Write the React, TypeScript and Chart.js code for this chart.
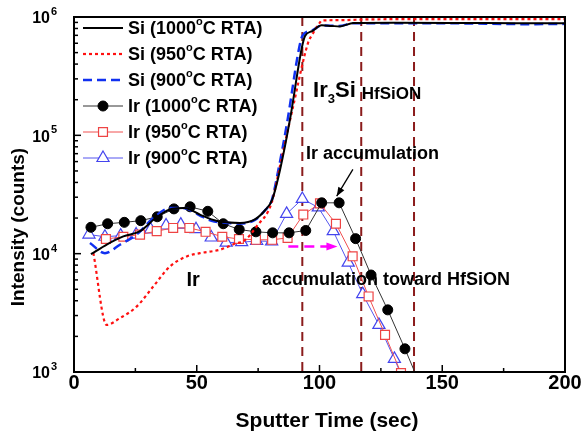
import React, { useEffect, useRef } from "react";
import { Chart, registerables } from "chart.js";
Chart.register(...registerables);

// ---------- data ----------
const siTime1000 = [6.9, 13.5, 20.1, 26.9, 33.9, 40, 45, 51.3, 56, 60.8, 67.6, 73.7, 78, 80.7, 84, 88, 92.7, 94.1, 97, 100.9, 105, 108.4, 113.8, 130, 160, 180, 200];
const si1000 = [9900, 12000, 14000, 15500, 20500, 24000, 24300, 21400, 19500, 18500, 18200, 19500, 23500, 28500, 52000, 137000, 536000, 690000, 760000, 850000, 840000, 833000, 890000, 895000, 890000, 885000, 885000];

const siTime950 = [7.9, 13.3, 18.7, 25.5, 32.3, 39.1, 45.9, 51.3, 59.5, 66.3, 69, 74.4, 80.5, 83.9, 89, 95.4, 96.8, 100.2, 100.9, 108, 120, 150, 200];
const si950 = [10100, 2500, 2850, 3570, 5280, 7800, 9480, 10100, 10800, 12300, 12700, 17000, 26900, 55000, 166000, 610000, 695000, 900000, 933000, 940000, 955000, 960000, 960000];

const siTime900 = [6.5, 12.6, 18.7, 25.5, 32.3, 39.1, 45, 51.3, 56, 60.8, 67.6, 73.7, 78, 80.5, 83, 87, 91.5, 93, 97, 100.9, 108, 113.8, 150, 185, 200];
const si900 = [12300, 10100, 11900, 14500, 20000, 24300, 24200, 21000, 19000, 18300, 18000, 19300, 23500, 28000, 48000, 135000, 520000, 690000, 770000, 850000, 840000, 885000, 885000, 870000, 875000];

const irTime1000 = [6.9, 13.7, 20.5, 27.2, 33.9, 40.7, 47.3, 54.5, 60.8, 67.3, 74.1, 80.9, 87.6, 94.4, 100.9, 108, 114.7, 121, 127.8, 134.8, 141.6];
const ir1000 = [16700, 17900, 18400, 19000, 20500, 23900, 24900, 22800, 17900, 16000, 15300, 15000, 15000, 15700, 26900, 26900, 13400, 6600, 3350, 1570, 730];

const irTime950 = [13.0, 20.1, 26.9, 33.7, 40.4, 47.0, 53.6, 60.4, 67.2, 74.1, 80.7, 87.0, 93.4, 100.2, 106.7, 113.5, 120.0, 126.7, 133.2, 139.8];
const ir950 = [13300, 13900, 14500, 15500, 16500, 16500, 15300, 13900, 13300, 13100, 13100, 13600, 21400, 26600, 17900, 9500, 4350, 2060, 980, 470];

const irTime900 = [6.1, 12.6, 19.0, 25.3, 31.2, 37.5, 43.5, 49.7, 55.9, 62.0, 68.3, 74.4, 80.5, 86.6, 93.0, 99.5, 105.6, 111.7, 117.6, 124.2, 130.5, 136.7];
const ir900 = [14500, 13900, 14200, 14500, 16000, 17300, 17600, 16100, 13700, 12400, 12500, 12800, 12700, 21700, 29000, 24600, 15500, 8400, 4550, 2500, 1290, 660];

const seriesLabels = ["Si (1000°C RTA)", "Si (950°C RTA)", "Si (900°C RTA)", "Ir (1000°C RTA)", "Ir (950°C RTA)", "Ir (900°C RTA)"];
const xTickValues = [0, 50, 100, 150, 200];
const yDecades = [1e3, 1e4, 1e5, 1e6];
const yTickLabels = [["10", "3"], ["10", "4"], ["10", "5"], ["10", "6"]];
const boundaryTimes = [93, 117, 138.5];

const FONT = "'Liberation Sans', Arial, Helvetica, sans-serif";

function pts(xs: number[], ys: number[]) {
  return xs.map((x, i) => ({ x, y: ys[i] }));
}

function drawMarker(ctx: CanvasRenderingContext2D, style: string, x: number, y: number, r: number, fill: string, stroke: string, lw: number) {
  ctx.save();
  ctx.beginPath();
  if (style === "circle") {
    ctx.arc(x, y, r, 0, Math.PI * 2);
  } else if (style === "rect") {
    const s = Math.SQRT1_2 * r;
    ctx.rect(x - s, y - s, 2 * s, 2 * s);
  } else {
    ctx.moveTo(x, y - r);
    ctx.lineTo(x + r * Math.sin((2 * Math.PI) / 3), y - r * Math.cos((2 * Math.PI) / 3));
    ctx.lineTo(x + r * Math.sin((4 * Math.PI) / 3), y - r * Math.cos((4 * Math.PI) / 3));
    ctx.closePath();
  }
  ctx.fillStyle = fill;
  ctx.fill();
  ctx.lineWidth = lw;
  ctx.strokeStyle = stroke;
  ctx.stroke();
  ctx.restore();
}

function drawSupText(ctx: CanvasRenderingContext2D, text: string, x: number, y: number, size: number) {
  // "°" rendered as superscript o, like the original figure
  const parts = text.split("°");
  ctx.textAlign = "left";
  ctx.textBaseline = "middle";
  let cx = x;
  parts.forEach((p, i) => {
    ctx.font = `bold ${size}px ${FONT}`;
    ctx.fillText(p, cx, y);
    cx += ctx.measureText(p).width;
    if (i < parts.length - 1) {
      ctx.font = `bold ${Math.round(size * 0.6)}px ${FONT}`;
      ctx.fillText("o", cx, y - size * 0.38);
      cx += ctx.measureText("o").width;
    }
  });
}

function arrowHead(ctx: CanvasRenderingContext2D, x0: number, y0: number, x1: number, y1: number, len: number, wid: number, color: string) {
  const ang = Math.atan2(y1 - y0, x1 - x0);
  ctx.save();
  ctx.setLineDash([]);
  ctx.fillStyle = color;
  ctx.beginPath();
  ctx.moveTo(x1, y1);
  ctx.lineTo(x1 - len * Math.cos(ang) + wid * Math.sin(ang), y1 - len * Math.sin(ang) - wid * Math.cos(ang));
  ctx.lineTo(x1 - len * Math.cos(ang) - wid * Math.sin(ang), y1 - len * Math.sin(ang) + wid * Math.cos(ang));
  ctx.closePath();
  ctx.fill();
  ctx.restore();
}

const decor = {
  id: "decor",
  beforeDatasetsDraw(chart: any) {
    const { ctx, chartArea: a, scales } = chart;
    const x = scales.x;
    ctx.save();
    ctx.strokeStyle = "#8b1c1c";
    ctx.lineWidth = 2;
    ctx.setLineDash([9, 6]);
    for (const v of boundaryTimes) {
      const px = x.getPixelForValue(v);
      ctx.beginPath();
      ctx.moveTo(px, a.top);
      ctx.lineTo(px, a.bottom);
      ctx.stroke();
    }
    ctx.restore();
  },
  afterDatasetsDraw(chart: any) {
    const { ctx, chartArea: a, scales } = chart;
    const x = scales.x;
    const y = scales.y;
    ctx.save();
    ctx.fillStyle = "#000";
    ctx.strokeStyle = "#000";

    // x ticks (inward)
    ctx.lineWidth = 1.5;
    for (let v = 0; v <= 200; v += 25) {
      const px = x.getPixelForValue(v);
      const len = v % 50 === 0 ? 7 : 4;
      ctx.beginPath();
      ctx.moveTo(px, a.bottom);
      ctx.lineTo(px, a.bottom - len);
      ctx.stroke();
    }
    // y ticks (inward)
    yDecades.forEach((d, i) => {
      const py = y.getPixelForValue(d);
      ctx.beginPath();
      ctx.moveTo(a.left, py);
      ctx.lineTo(a.left + 7, py);
      ctx.stroke();
      if (i < yDecades.length - 1) {
        for (let m = 2; m <= 9; m++) {
          const pm = y.getPixelForValue(d * m);
          ctx.beginPath();
          ctx.moveTo(a.left, pm);
          ctx.lineTo(a.left + 4, pm);
          ctx.stroke();
        }
      }
    });

    // frame
    ctx.lineWidth = 2;
    ctx.strokeRect(a.left, a.top, a.right - a.left, a.bottom - a.top);

    // y tick labels with superscripts
    yDecades.forEach((d, i) => {
      const py = y.getPixelForValue(d);
      const [base, sup] = yTickLabels[i];
      ctx.font = `bold 16px ${FONT}`;
      ctx.textAlign = "right";
      ctx.textBaseline = "middle";
      ctx.fillText(base, 50, py + 2);
      ctx.font = `bold 11px ${FONT}`;
      ctx.textAlign = "left";
      ctx.fillText(sup, 51, py - 5);
    });

    // axis titles
    ctx.font = `bold 21px ${FONT}`;
    ctx.textAlign = "center";
    ctx.textBaseline = "middle";
    ctx.fillText("Sputter Time (sec)", 327, 421);
    ctx.save();
    ctx.translate(19, 227);
    ctx.rotate(-Math.PI / 2);
    ctx.font = `bold 19px ${FONT}`;
    ctx.fillText("Intensity (counts)", 0, 0);
    ctx.restore();

    // annotations
    ctx.textAlign = "center";
    ctx.textBaseline = "middle";
    ctx.font = `bold 20px ${FONT}`;
    ctx.fillText("Ir", x.getPixelForValue(48.5), y.getPixelForValue(5900));

    ctx.textAlign = "left";
    let ix = x.getPixelForValue(97.4);
    const iy = y.getPixelForValue(236000);
    ctx.font = `bold 22px ${FONT}`;
    ctx.fillText("Ir", ix, iy);
    ix += ctx.measureText("Ir").width;
    ctx.font = `bold 13px ${FONT}`;
    ctx.fillText("3", ix, iy + 8);
    ix += ctx.measureText("3").width;
    ctx.font = `bold 22px ${FONT}`;
    ctx.fillText("Si", ix, iy);

    ctx.font = `bold 17px ${FONT}`;
    ctx.fillText("HfSiON", x.getPixelForValue(117.2), y.getPixelForValue(222000));

    ctx.font = `bold 18px ${FONT}`;
    ctx.fillText("Ir accumulation", x.getPixelForValue(94.5), y.getPixelForValue(69000));
    ctx.fillText("accumulation toward HfSiON", x.getPixelForValue(76.6), y.getPixelForValue(6030));

    // black arrow
    {
      const x0 = x.getPixelForValue(113.6), y0 = y.getPixelForValue(51500);
      const x1 = x.getPixelForValue(107), y1 = y.getPixelForValue(30600);
      ctx.lineWidth = 1.3;
      ctx.beginPath();
      ctx.moveTo(x0, y0);
      ctx.lineTo(x1, y1);
      ctx.stroke();
      arrowHead(ctx, x0, y0, x1, y1, 9, 3.5, "#000");
    }
    // magenta dashed arrow
    {
      const x0 = x.getPixelForValue(87.3), y0 = y.getPixelForValue(11500);
      const x1 = x.getPixelForValue(107.3), y1 = y0;
      ctx.strokeStyle = "#ff00ff";
      ctx.lineWidth = 2.5;
      ctx.setLineDash([10, 6]);
      ctx.beginPath();
      ctx.moveTo(x0, y0);
      ctx.lineTo(x1 - 6, y1);
      ctx.stroke();
      arrowHead(ctx, x0, y0, x1, y1, 11, 4, "#ff00ff");
      ctx.setLineDash([]);
    }

    // legend
    chart.data.datasets.forEach((ds: any, i: number) => {
      const ly = 28 + i * 26;
      ctx.save();
      ctx.strokeStyle = ds.borderColor;
      ctx.lineWidth = ds.borderWidth;
      ctx.setLineDash(ds.borderDash || []);
      ctx.beginPath();
      ctx.moveTo(83, ly);
      ctx.lineTo(123, ly);
      ctx.stroke();
      ctx.setLineDash([]);
      if (ds.pointRadius > 0) {
        drawMarker(ctx, ds.pointStyle, 103, ly, ds.pointRadius, ds.pointBackgroundColor, ds.pointBorderColor, ds.pointBorderWidth);
      }
      ctx.restore();
      ctx.fillStyle = "#000";
      drawSupText(ctx, ds.label, 128, ly + 1, 18);
    });

    ctx.restore();
  },
};

export default function App() {
  const ref = useRef<HTMLCanvasElement | null>(null);
  useEffect(() => {
    document.body.style.margin = "0";
    if (!ref.current) return;
    const chart = new Chart(ref.current, {
      type: "line",
      data: {
        datasets: [
          {
            label: seriesLabels[0], data: pts(siTime1000, si1000), borderColor: "#000000", borderWidth: 2,
            pointRadius: 0, cubicInterpolationMode: "monotone", fill: false,
          },
          {
            label: seriesLabels[1], data: pts(siTime950, si950), borderColor: "#ff1010", borderWidth: 2.2, borderDash: [3, 3],
            pointRadius: 0, cubicInterpolationMode: "monotone", fill: false,
          },
          {
            label: seriesLabels[2], data: pts(siTime900, si900), borderColor: "#1030f0", borderWidth: 2.5, borderDash: [9, 5],
            pointRadius: 0, cubicInterpolationMode: "monotone", fill: false,
          },
          {
            label: seriesLabels[3], data: pts(irTime1000, ir1000), borderColor: "#333333", borderWidth: 1,
            pointStyle: "circle", pointRadius: 5, pointBackgroundColor: "#000000", pointBorderColor: "#000000", pointBorderWidth: 1,
            tension: 0, fill: false,
          },
          {
            label: seriesLabels[4], data: pts(irTime950, ir950), borderColor: "#f05050", borderWidth: 1,
            pointStyle: "rect", pointRadius: 6.3, pointBackgroundColor: "#ffffff", pointBorderColor: "#ee4444", pointBorderWidth: 1.2,
            tension: 0, fill: false,
          },
          {
            label: seriesLabels[5], data: pts(irTime900, ir900), borderColor: "#5555ee", borderWidth: 1,
            pointStyle: "triangle", pointRadius: 7, pointBackgroundColor: "#ffffff", pointBorderColor: "#4444ee", pointBorderWidth: 1.2,
            tension: 0, fill: false,
          },
        ],
      } as any,
      plugins: [decor],
      options: {
        animation: false,
        responsive: true,
        maintainAspectRatio: false,
        layout: { padding: { top: 17, right: 23, left: 0, bottom: 0 } },
        plugins: { legend: { display: false }, tooltip: { enabled: false } },
        events: [],
        scales: {
          x: {
            type: "linear", min: 0, max: 200,
            afterBuildTicks: (s: any) => { s.ticks = xTickValues.map((v) => ({ value: v })); },
            grid: { display: false, drawTicks: false },
            border: { display: false },
            ticks: { color: "#000", font: { family: FONT, size: 20, weight: "bold" }, padding: -1, maxRotation: 0 },
            afterFit: (s: any) => { s.height = 66; },
          },
          y: {
            type: "logarithmic", min: 1000, max: 1000000,
            grid: { display: false, drawTicks: false },
            border: { display: false },
            ticks: { display: false },
            afterFit: (s: any) => { s.width = 74; },
          },
        },
      } as any,
    });
    return () => chart.destroy();
  }, []);
  return (
    <div style={{ width: 588, height: 438, position: "relative" }}>
      <canvas ref={ref} />
    </div>
  );
}
